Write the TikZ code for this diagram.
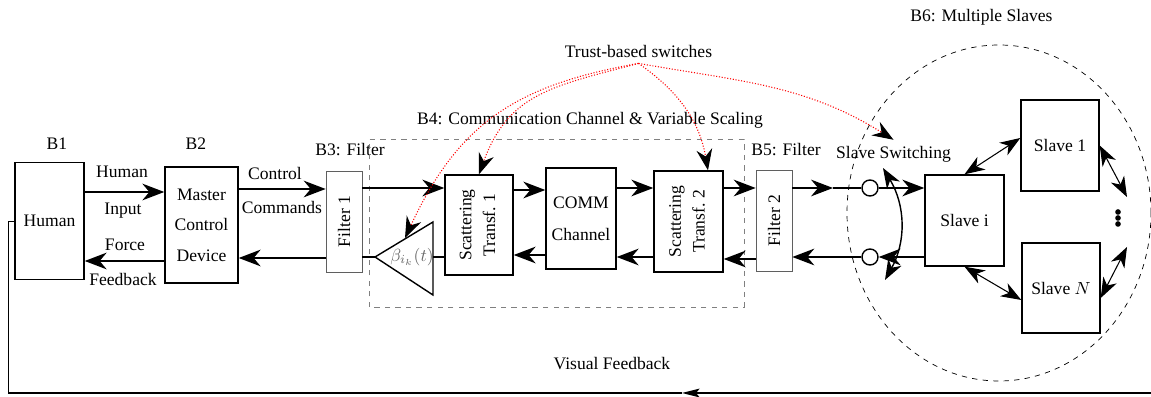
\documentclass[tikz,border=0pt]{standalone}
\usepackage{fontspec}
\setmainfont{Liberation Serif}
\usepackage{amsmath}
\usepackage{tikz}
\usetikzlibrary{shapes,arrows.meta,positioning,calc}
\definecolor{trustred}{RGB}{255,0,0}
\definecolor{filtergray}{RGB}{95,95,95}

\begin{document}
\begin{tikzpicture}[
    box/.style={rectangle, draw, thick, align=center, inner sep=0pt},
    filterbox/.style={rectangle, draw=filtergray, minimum width=0.72cm, minimum height=2.02cm, inner sep=0pt},
    switch/.style={circle, draw, thick, minimum size=0.32cm, inner sep=0pt},
    tag/.style={inner sep=2pt},
    arrow/.style={-{Stealth[length=12.5pt,width=9.5pt,inset=4pt]}, thick},
    dblarrow/.style={{Stealth[length=11.5pt,width=8.5pt,inset=3.5pt]}-{Stealth[length=11.5pt,width=8.5pt,inset=3.5pt]}, semithick},
    trustarrow/.style={trustred, densely dotted, semithick, -{Stealth[black,length=12pt,width=9pt,inset=4pt]}}
]
\useasboundingbox (0,0) rectangle (23.02,7.94);

% Master side
\node[box, minimum width=1.38cm, minimum height=2.34cm] (human) at (0.99,3.52) {Human};
\node[box, minimum width=1.46cm, minimum height=2.32cm] (master) at (4.03,3.44) {Master\\[5.4pt]Control\\[5.4pt]Device};
\node[filterbox] (filter1) at (6.88,3.51) {\rotatebox{90}{Filter 1}};

\node (b1) at (1.14,5.06) {B1};
\node (b2) at (3.92,5.06) {B2};
\node (b3) at (7.00,4.94) {B3: Filter};

\node[tag] (lhuman) at (2.44,4.50) {Human};
\node[tag] (linput) at (2.46,3.72) {Input};
\node[tag] (lforce) at (2.50,3.04) {Force};
\node[tag] (lfeedback) at (2.46,2.36) {Feedback};
\node[tag] (lcontrol) at (5.50,4.48) {Control};
\node[tag] (lcommands) at (5.64,3.80) {Commands};

% Channel
\draw[dashed, gray, thin] (7.38,1.80) rectangle (14.88,5.16);
\node (b4) at (11.80,5.54) {B4: Communication Channel \& Variable Scaling};
\node[box, minimum width=1.36cm, minimum height=2.00cm] (scat1) at (9.58,3.44)
    {\rotatebox{90}{\begin{tabular}{@{}c@{}}Scattering\\[1.5pt]Transf.~1\end{tabular}}};
\node[box, minimum width=1.40cm, minimum height=2.02cm] (comm) at (11.62,3.57) {COMM\\[6pt]Channel};
\node[box, minimum width=1.38cm, minimum height=2.02cm] (scat2) at (13.77,3.51)
    {\rotatebox{90}{\begin{tabular}{@{}c@{}}Scattering\\[1.5pt]Transf.~2\end{tabular}}};
\draw[thick] (8.66,3.50) -- (7.50,2.80) -- (8.66,2.04) -- cycle;
\coordinate (gapex) at (7.50,2.80);
\coordinate (gbase) at (8.66,2.80);
\coordinate (gtop) at (8.10,3.18);
\node[text=black!60] (beta) at (8.24,2.80) {$\beta_{i_k}(t)$};

% Slave side
\node[filterbox] (filter2) at (15.48,3.53) {\rotatebox{90}{Filter 2}};
\node (b5) at (15.72,4.94) {B5: Filter};
\node[switch] (sw1) at (17.40,4.18) {};
\node[switch] (sw2) at (17.40,2.80) {};
\coordinate (m1) at (16.66,4.18);
\node (swlabel) at (17.87,4.86) {Slave Switching};
\node[box, minimum width=1.58cm, minimum height=1.82cm] (slavei) at (19.29,3.53) {Slave i};
\node[box, minimum width=1.56cm, minimum height=1.82cm] (slave1) at (21.20,5.03) {Slave 1};
\node[box, minimum width=1.56cm, minimum height=1.80cm] (slaveN) at (21.22,2.18) {Slave $N$};
\foreach \dy in {0.12,0,-0.12}
    \fill (22.36,3.58+\dy) circle (1.6pt);
\coordinate (dtop) at (22.54,4.00);
\coordinate (dbot) at (22.54,3.00);
\draw[dashed] (19.98,3.68) ellipse (3.04cm and 3.36cm);
\node (b6) at (19.63,7.60) {B6: Multiple Slaves};
\coordinate (swtop) at (17.66,4.58);
\coordinate (swbot) at (17.70,2.34);

\node (trust) at (12.77,6.92) {Trust-based switches};

% Forward path
\draw[arrow] (human.east |- 0,4.10) -- (master.west |- 0,4.10);
\draw[arrow] (master.east |- 0,4.16) -- (filter1.west |- 0,4.16);
\draw[arrow] (filter1.east |- 0,4.18) -- (scat1.west |- 0,4.18);
\draw[arrow] (scat1.east |- 0,4.14) -- (comm.west |- 0,4.14);
\draw[arrow] (comm.east |- 0,4.18) -- (scat2.west |- 0,4.18);
\draw[arrow] (scat2.east |- 0,4.18) -- (filter2.west |- 0,4.18);
\draw[arrow] (filter2.east |- m1) -- (m1);
\draw[thick] (m1) -- (sw1.west);
\draw[arrow] (sw1.east) -- (slavei.west |- sw1);

% Feedback path
\draw[arrow] (slavei.west |- sw2) -- (sw2.east);
\draw[arrow] (sw2.west) -- (filter2.east |- sw2);
\draw[arrow] (filter2.west |- 0,2.76) -- (scat2.east |- 0,2.76);
\draw[arrow] (scat2.west |- 0,2.80) -- (comm.east |- 0,2.80);
\draw[arrow] (comm.west |- 0,2.84) -- (scat1.east |- 0,2.84);
\draw[thick] (scat1.west |- gbase) -- (gbase);
\draw[thick] (gapex) -- (filter1.east |- gapex);
\draw[arrow] (filter1.west |- 0,2.78) -- (master.east |- 0,2.78);
\draw[arrow] (master.west |- 0,2.72) -- (human.east |- 0,2.72);

% Switching
\draw[dblarrow, thick] (swtop) to[bend left=30] (swbot);
\draw[dblarrow] (slavei.north) -- ([yshift=0.15cm]slave1.west);
\draw[dblarrow] (slavei.south) -- ([yshift=-0.24cm]slaveN.west);
\draw[dblarrow] (slave1.east) -- (dtop);
\draw[dblarrow] ([yshift=-0.2cm]slaveN.east) -- (dbot);

% Trust-based switches
\draw[trustarrow] (trust.south) to[out=190, in=65, looseness=1.1] (gtop);
\draw[trustarrow] (trust.south) to[out=195, in=70, looseness=1.15] (scat1.north);
\draw[trustarrow] (trust.south) to[out=-35, in=100] ([xshift=0.39cm]scat2.north);
\draw[trustarrow] (trust.south) to[out=-10, in=148] (swlabel.north);

% Visual feedback
\coordinate (vfR) at (23.02,0.08);
\coordinate (vfM) at (13.64,0.08);
\coordinate (vfL) at (0.16,0.08);
\node (vfb) at (12.24,0.66) {Visual Feedback};
\draw[-{Stealth[length=10pt,width=5pt,inset=2pt]}, thick] (vfR) -- (vfM);
\draw[thick] (vfM) -- (vfL);
\draw (vfL) |- (human.west);

\end{tikzpicture}
\end{document}
